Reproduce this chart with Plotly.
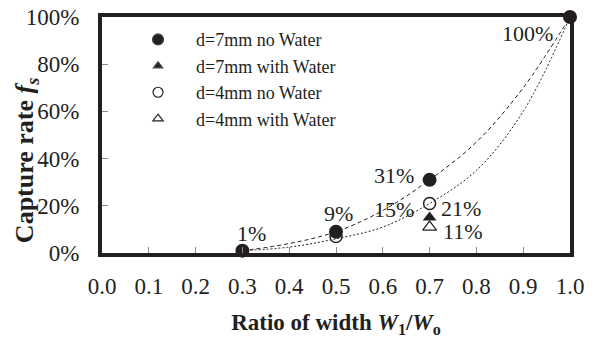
import plotly.graph_objects as go

# ---- data ----
ratio_7_dry = [0.3, 0.5, 0.7, 1.0]
rate_7_dry = [1, 9, 31, 100]
ratio_7_wet = [0.7]
rate_7_wet = [15]
ratio_4_dry = [0.5, 0.7]
rate_4_dry = [7, 21]
ratio_4_wet = [0.7]
rate_4_wet = [11]

# trend curves
trend_x = [0.3, 0.4, 0.5, 0.6, 0.7, 0.8, 0.9, 1.0]
trend_7 = [1, 4, 9, 18, 31, 47, 70, 100]
trend_4 = [1, 2.5, 6, 11, 21, 35, 60, 100]

series_names = ["d=7mm no Water", "d=7mm with Water", "d=4mm no Water", "d=4mm with Water"]

# point labels: (x, y, text)
lab_x = [0.3, 0.5, 0.7, 0.7, 0.7, 0.7, 1.0]
lab_y = [1, 9, 31, 15, 21, 11, 100]
lab_t = ["1%", "9%", "31%", "15%", "21%", "11%", "100%"]

x_ticks = [0.0, 0.1, 0.2, 0.3, 0.4, 0.5, 0.6, 0.7, 0.8, 0.9, 1.0]
y_ticks = [0, 20, 40, 60, 80, 100]

FONT = "Liberation Serif"
BLACK = "#231f20"

fig = go.Figure()

fig.add_trace(go.Scatter(x=trend_x, y=trend_7, mode="lines", line_shape="spline",
                         line=dict(color=BLACK, width=1, dash="4px,3px"), showlegend=False,
                         hoverinfo="skip"))
fig.add_trace(go.Scatter(x=trend_x, y=trend_4, mode="lines", line_shape="spline",
                         line=dict(color=BLACK, width=1, dash="2px,2px"), showlegend=False,
                         hoverinfo="skip"))

fig.add_trace(go.Scatter(x=ratio_7_dry, y=rate_7_dry, mode="markers", showlegend=False,
                         marker=dict(symbol="circle", size=14, color=BLACK), cliponaxis=False))
fig.add_trace(go.Scatter(x=ratio_7_wet, y=rate_7_wet, mode="markers", showlegend=False,
                         marker=dict(symbol="triangle-up", size=12, color=BLACK), cliponaxis=False))
fig.add_trace(go.Scatter(x=ratio_4_dry, y=rate_4_dry, mode="markers", showlegend=False,
                         marker=dict(symbol="circle-open", size=12, color=BLACK, line=dict(width=1.5)),
                         cliponaxis=False))
fig.add_trace(go.Scatter(x=ratio_4_wet, y=rate_4_wet, mode="markers", showlegend=False,
                         marker=dict(symbol="triangle-up-open", size=12, color=BLACK, line=dict(width=1.2)),
                         cliponaxis=False))

# legend entries
leg_sym = ["circle", "triangle-up", "circle-open", "triangle-up-open"]
leg_size = [11, 8, 10, 9]
for name, sym, sz in zip(series_names, leg_sym, leg_size):
    fig.add_trace(go.Scatter(x=[None], y=[None], mode="markers", name="\u00a0\u00a0\u00a0\u00a0" + name,
                             marker=dict(symbol=sym, size=sz, color=BLACK, line=dict(width=1.2))))

# label annotations
shifts = [
    dict(xanchor="center", yanchor="middle", xshift=9, yshift=17),
    dict(xanchor="center", yanchor="middle", xshift=2, yshift=18),
    dict(xanchor="right", yanchor="middle", xshift=-14, yshift=4),
    dict(xanchor="right", yanchor="middle", xshift=-14, yshift=8),
    dict(xanchor="left", yanchor="middle", xshift=9, yshift=-5),
    dict(xanchor="left", yanchor="middle", xshift=11, yshift=-4),
    dict(xanchor="right", yanchor="middle", xshift=-15, yshift=-16),
]
for x, y, t, s in zip(lab_x, lab_y, lab_t, shifts):
    fig.add_annotation(x=x, y=y, text=t, showarrow=False, font=dict(family=FONT, size=22, color=BLACK), **s)

# y-axis title
fig.add_annotation(xref="paper", yref="paper", x=-0.162, y=0.39, textangle=-90,
                   xanchor="center", yanchor="middle", showarrow=False,
                   text="<b>Capture rate <i>f</i><sub><i>s</i></sub></b>",
                   font=dict(family=FONT, size=26, color=BLACK))

# page body has an 8px margin, figure is sized so plot lands at the same place
fig.update_layout(
    width=584, height=330,
    margin=dict(l=94, r=22, t=9, b=85),
    paper_bgcolor="white", plot_bgcolor="white",
    font=dict(family=FONT, size=20, color=BLACK),
    showlegend=True,
    legend=dict(x=0.077, y=0.982, xanchor="left", yanchor="top", bgcolor="rgba(0,0,0,0)",
                font=dict(family=FONT, size=18, color=BLACK), tracegroupgap=0, itemsizing="trace"),
    xaxis=dict(range=[0, 1], tickvals=x_ticks, ticktext=[f"{v:.1f}" for v in x_ticks],
               ticks="inside", ticklen=6, tickcolor="#8c8c8c", tickwidth=1, automargin=False,
               showline=True, linecolor=BLACK, linewidth=4, mirror=True, showgrid=False, zeroline=False,
               ticklabelstandoff=9, ticklabeloverflow="allow", tickfont=dict(family=FONT, size=23),
               title=dict(text="<b>Ratio of width <i>W</i><sub>1</sub>/<i>W</i><sub>o</sub></b>",
                          font=dict(family=FONT, size=23), standoff=18)),
    yaxis=dict(range=[0, 100], tickvals=y_ticks, ticktext=[f"{v}%" for v in y_ticks],
               ticks="inside", ticklen=6, tickcolor="#8c8c8c", tickwidth=1, automargin=False,
               showline=True, linecolor=BLACK, linewidth=4, mirror=True, showgrid=False, zeroline=False,
               ticklabelstandoff=14, ticklabeloverflow="allow", tickfont=dict(family=FONT, size=23)),
)

fig.write_html("out.html")
